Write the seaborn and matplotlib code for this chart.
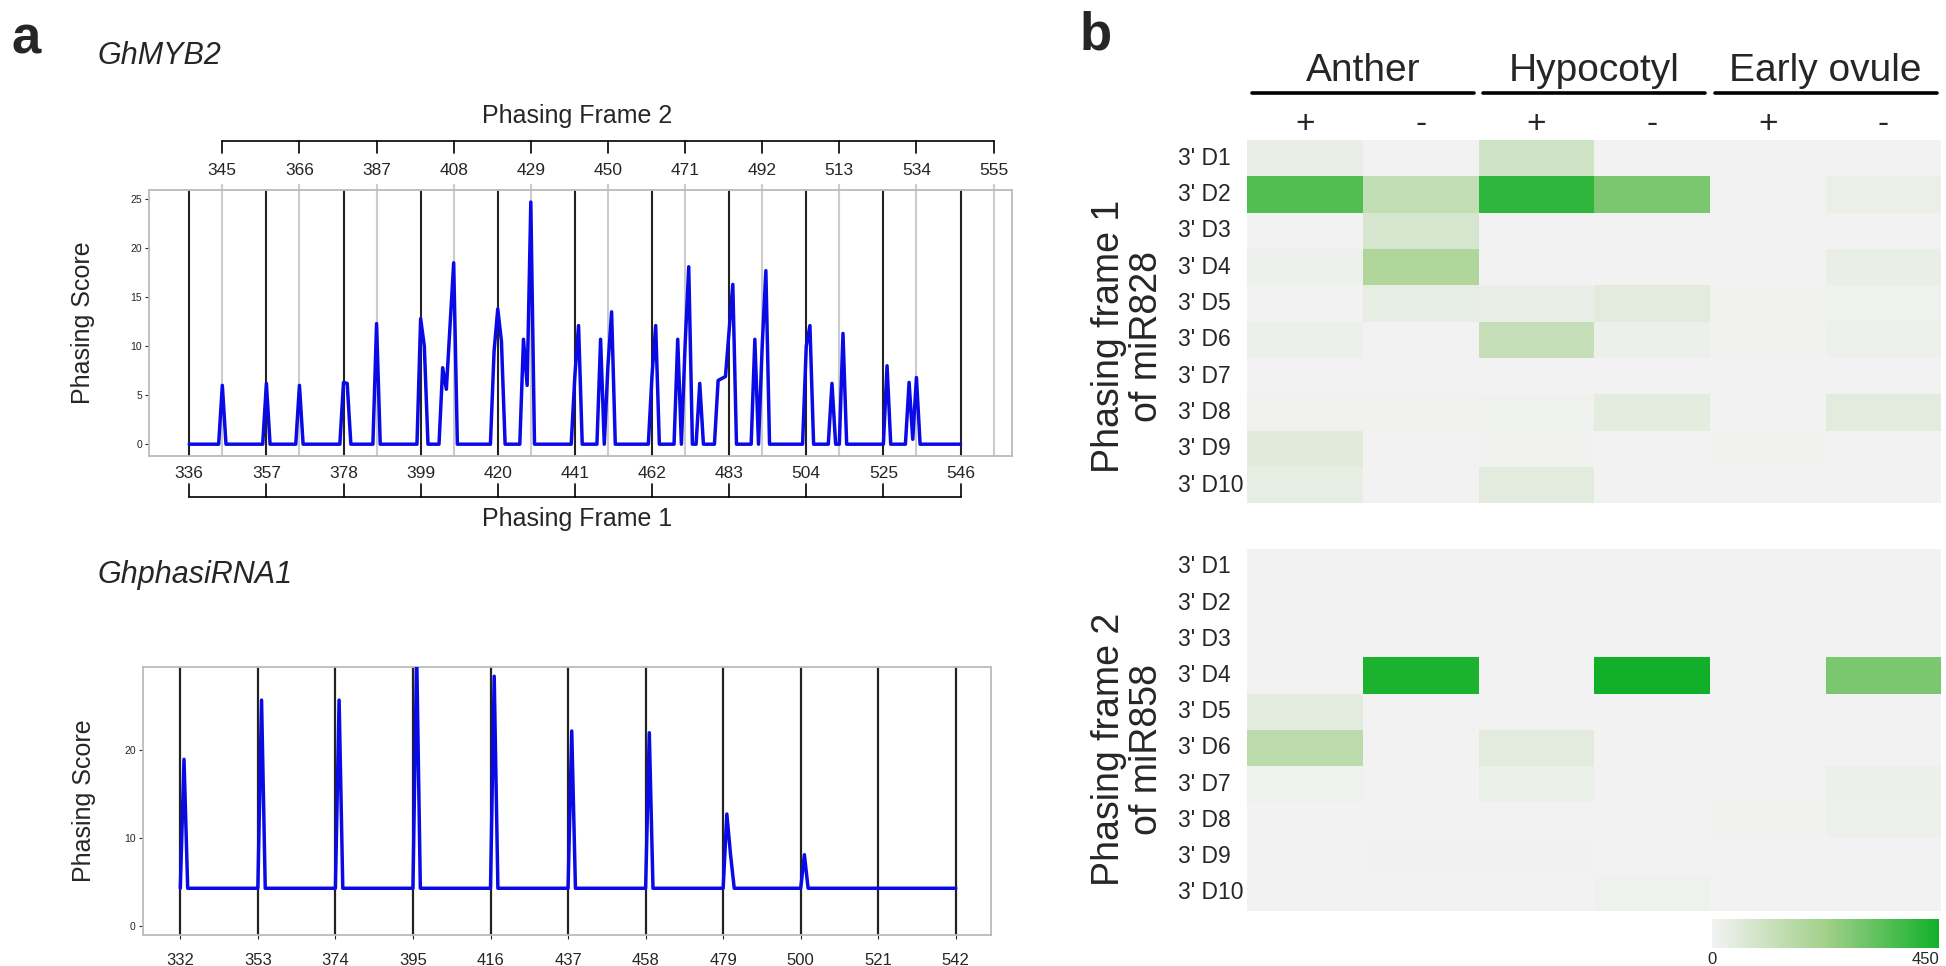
import matplotlib
matplotlib.use("Agg")
import matplotlib.pyplot as plt
import matplotlib.transforms as mtransforms
from matplotlib.colors import LinearSegmentedColormap
import pandas as pd
import seaborn as sns

sns.set_style("white")
plt.rcParams['font.family'] = ['Liberation Sans', 'DejaVu Sans']

# ---- panel a, GhMYB2: phasing score trace (vertices)
myb2_pos = [336, 344, 345, 346, 356, 357, 358, 365, 366, 367, 377, 378, 379, 380,
            386, 387, 388, 398, 399, 400, 401, 404, 405, 406, 408, 409,
            418, 419, 420, 421, 422, 426, 427, 428, 429, 430, 440, 441, 442, 443,
            447, 448, 449, 450, 451, 452, 461, 462, 463, 464, 468, 469, 470, 471, 472, 473,
            474, 475, 476, 479, 480, 482, 484, 485, 489, 490, 491, 492, 493, 494,
            503, 504, 505, 506, 510, 511, 512, 513, 514, 515, 525, 526, 527,
            531, 532, 533, 534, 535, 546]
myb2_score = [0, 0, 6.0, 0, 0, 6.2, 0, 0, 6.0, 0, 0, 6.3, 6.2, 0,
              0, 12.3, 0, 0, 12.8, 10.0, 0, 0, 7.8, 5.6, 18.5, 0,
              0, 9.5, 13.8, 10.5, 0, 0, 10.7, 6.0, 24.7, 0, 0, 7.0, 12.1, 0,
              0, 10.7, 0, 8.0, 13.5, 0, 0, 7.0, 12.1, 0, 0, 10.7, 0, 10.0, 18.1, 0,
              0, 6.2, 0, 0, 6.5, 6.9, 16.3, 0, 0, 10.7, 0, 10.0, 17.7, 0,
              0, 10.0, 12.1, 0, 0, 6.2, 0, 0, 11.3, 0, 0, 8.0, 0,
              0, 6.3, 0.5, 6.8, 0, 0]
myb2_frame1 = [336, 357, 378, 399, 420, 441, 462, 483, 504, 525, 546]
myb2_frame2 = [345, 366, 387, 408, 429, 450, 471, 492, 513, 534, 555]

# ---- panel a, GhphasiRNA1
phasi_pos = [332, 333, 334, 353, 354, 355, 374, 375, 376, 395, 396, 397,
             416, 417, 418, 437, 438, 439, 458, 459, 460, 479, 480, 481, 482,
             500, 501, 502, 542]
phasi_score = [4.3, 18.9, 4.3, 4.3, 25.6, 4.3, 4.3, 25.6, 4.3, 4.3, 31.0, 4.3,
               4.3, 28.3, 4.3, 4.3, 22.1, 4.3, 4.3, 21.9, 4.3, 4.3, 12.7, 8.1, 4.3,
               4.3, 8.1, 4.3, 4.3]
phasi_frame = [332, 353, 374, 395, 416, 437, 458, 479, 500, 521, 542]

# ---- panel b heatmap
rows = ["3' D1", "3' D2", "3' D3", "3' D4", "3' D5",
        "3' D6", "3' D7", "3' D8", "3' D9", "3' D10"]
tissues = ["Anther", "Hypocotyl", "Early ovule"]
strands = ["+", "-"]
cols = [t + " " + s for t in tissues for s in strands]
frame1_miR828 = [
    [28, 0, 98, 0, 0, 0],
    [350, 135, 405, 288, 0, 23],
    [0, 79, 0, 0, 0, 0],
    [11, 185, 0, 0, 0, 28],
    [0, 34, 28, 45, 5, 8],
    [17, 0, 124, 17, 4, 14],
    [3, 3, 3, 3, 3, 3],
    [4, 4, 10, 40, 0, 45],
    [48, 0, 5, 0, 5, 0],
    [34, 0, 45, 0, 0, 0],
]
frame2_miR858 = [
    [0, 0, 0, 0, 0, 0],
    [0, 0, 0, 0, 0, 0],
    [0, 0, 0, 0, 0, 0],
    [0, 435, 0, 450, 0, 285],
    [45, 0, 0, 0, 0, 0],
    [152, 0, 45, 0, 0, 0],
    [8, 0, 23, 0, 0, 18],
    [0, 0, 0, 0, 5, 15],
    [0, 6, 6, 0, 0, 0],
    [0, 0, 0, 8, 0, 0],
]

blue = '#0a0ae6'
spine_gray = '#bbbbbb'

fig = plt.figure(figsize=(19.46, 9.66), dpi=100)

# ================= GhMYB2 =================
ax1 = fig.add_axes([0.0765, 0.528, 0.4435, 0.275])
for p in myb2_frame2:
    ax1.axvline(p, color='#cccccc', lw=1.5, zorder=1)
for p in myb2_frame1:
    ax1.axvline(p, color='#222222', lw=1.5, zorder=2)
sns.lineplot(x=myb2_pos, y=myb2_score, ax=ax1, color=blue, linewidth=2.5, zorder=3)
ax1.set_xlim(325, 560)
ax1.set_ylim(-1.2, 25.9)
ax1.set_yticks([0, 5, 10, 15, 20, 25])
ax1.set_xticks(myb2_frame1)
ax1.tick_params(axis='y', length=3, width=0.8, labelsize=7.5, pad=2, left=True)
ax1.tick_params(axis='x', length=0, labelsize=12.5, pad=7)
for s in ax1.spines.values():
    s.set_color(spine_gray)
    s.set_linewidth(1.3)
ax1.set_ylabel("Phasing Score", fontsize=18)
ax1.yaxis.set_label_coords(-0.062, 0.5)
sec = ax1.secondary_xaxis('top')
sec.set_xticks(myb2_frame2)
sec.tick_params(length=4, width=1.5, color='#cccccc', labelsize=12.5, pad=5)
sec.spines['top'].set_visible(False)

trans1 = ax1.get_xaxis_transform()
# brackets for the two phasing frames
ax1.plot([myb2_frame2[0], myb2_frame2[-1]], [1.187, 1.187], color='black', lw=1.2,
         transform=trans1, clip_on=False)
for p in myb2_frame2:
    ax1.plot([p, p], [1.187, 1.14], color='black', lw=1.2, transform=trans1, clip_on=False)
ax1.plot([myb2_frame1[0], myb2_frame1[-1]], [-0.154, -0.154], color='black', lw=1.2,
         transform=trans1, clip_on=False)
for p in myb2_frame1:
    ax1.plot([p, p], [-0.154, -0.107], color='black', lw=1.2, transform=trans1, clip_on=False)

fig.text(0.2966, 0.880, "Phasing Frame 2", fontsize=18, ha='center', va='center')
fig.text(0.2966, 0.463, "Phasing Frame 1", fontsize=18, ha='center', va='center')
fig.text(0.050, 0.942, "GhMYB2", fontsize=22, style='italic', ha='left', va='center')
fig.text(0.006, 0.945, "a", fontsize=38, fontweight='bold', ha='left', va='baseline')

# ================= GhphasiRNA1 =================
ax2 = fig.add_axes([0.0733, 0.032, 0.4357, 0.278])
for p in phasi_frame:
    ax2.axvline(p, color='#222222', lw=1.6, zorder=2)
sns.lineplot(x=phasi_pos, y=phasi_score, ax=ax2, color=blue, linewidth=2.5, zorder=3)
ax2.set_xlim(321.8, 551.4)
ax2.set_ylim(-1.0, 29.4)
ax2.set_yticks([0, 10, 20])
ax2.set_xticks(phasi_frame)
ax2.tick_params(axis='y', length=3, width=0.8, labelsize=7.5, pad=2, left=True)
ax2.tick_params(axis='x', length=3, width=0.8, labelsize=12, pad=10, bottom=True)
for s in ax2.spines.values():
    s.set_color(spine_gray)
    s.set_linewidth(1.3)
ax2.set_ylabel("Phasing Score", fontsize=18)
ax2.yaxis.set_label_coords(-0.055, 0.5)
fig.text(0.050, 0.405, "GhphasiRNA1", fontsize=22, style='italic', ha='left', va='center')

# ================= panel b =================
cmap = LinearSegmentedColormap.from_list('phas', ['#f2f2f2', '#a2d08a', '#12b02a'])
df1 = pd.DataFrame(frame1_miR828, index=rows, columns=cols)
df2 = pd.DataFrame(frame2_miR858, index=rows, columns=cols)
narrow = ['Liberation Sans Narrow', 'Liberation Sans', 'DejaVu Sans']

hax1 = fig.add_axes([0.641, 0.479, 0.3565, 0.376])
hax2 = fig.add_axes([0.641, 0.057, 0.3565, 0.375])
for hax, df in [(hax1, df1), (hax2, df2)]:
    sns.heatmap(df, ax=hax, cmap=cmap, vmin=0, vmax=450, cbar=False,
                xticklabels=False, yticklabels=rows)
    hax.tick_params(axis='y', length=0, pad=50, labelsize=16.5, labelrotation=0)
    for lab in hax.get_yticklabels():
        lab.set_ha('left')
        lab.set_family(narrow)

fig.text(0.5797, 0.652, "Phasing frame 1\nof miR828", fontsize=27, rotation=90,
         ha='center', va='center', linespacing=1.05, multialignment='center')
fig.text(0.5797, 0.224, "Phasing frame 2\nof miR858", fontsize=27, rotation=90,
         ha='center', va='center', linespacing=1.05, multialignment='center')

tb = mtransforms.blended_transform_factory(hax1.transData, fig.transFigure)
for i, t in enumerate(tissues):
    fig.text(2 * i + 1, 0.927, t, fontsize=28, ha='center', va='center', transform=tb)
    fig.add_artist(plt.Line2D([2 * i + 0.04, 2 * i + 1.96], [0.904, 0.904], color='black',
                              lw=2.6, transform=tb))
for j, c in enumerate(cols):
    fig.text(j + 0.5, 0.871, c.split(" ")[-1], fontsize=24, ha='center', va='center',
             transform=tb)

fig.text(0.555, 0.949, "b", fontsize=38, fontweight='bold', ha='left', va='baseline')

cax = fig.add_axes([0.880, 0.019, 0.1165, 0.030])
cb = fig.colorbar(hax1.collections[0], cax=cax, orientation='horizontal', ticks=[0, 450])
cb.outline.set_visible(False)
cax.tick_params(length=0, labelsize=12, pad=3)
cax.set_xticklabels(["0", "450"])
cax.get_xticklabels()[-1].set_ha('right')

fig.savefig("out.png", dpi=100)
